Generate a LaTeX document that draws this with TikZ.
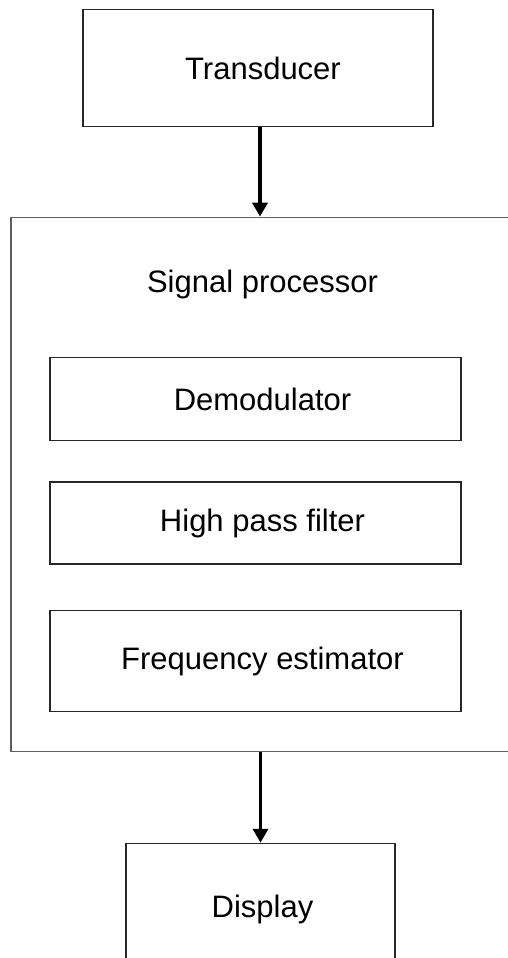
\documentclass[tikz,border=0pt]{standalone}
\usepackage{fontspec}
\setmainfont{Liberation Sans}
\usepackage{tikz}
\usetikzlibrary{arrows.meta, positioning, calc}
\definecolor{outerline}{RGB}{95,95,95}
\definecolor{innerline}{RGB}{40,40,40}

\tikzset{
  blockbox/.style={draw=innerline, line width=0.75pt, rectangle, inner sep=0pt,
    font=\fontsize{15.5}{18}\selectfont},
  stagebox/.style={blockbox, minimum width=205.5pt},
  flow/.style={-{Triangle[length=7pt, width=7.5pt]}, line width=1.75pt}
}

\begin{document}
\begin{tikzpicture}[x=0.5pt, y=-0.5pt]
  \clip (0,0) rectangle (508,958);
  % outer signal processor block
  \node[blockbox, draw=outerline, line width=0.9pt, minimum width=252pt, minimum height=267pt] (sigproc) at (263,484.5) {};
  \node[font=\fontsize{15.5}{18}\selectfont] (sptitle) at (262.5,284) {Signal processor};
  % top and bottom blocks
  \node[blockbox, minimum width=175pt, minimum height=58.5pt] (trans) at (258,68) {\hspace{5pt}Transducer};
  \node[blockbox, minimum width=134.5pt, minimum height=65.5pt] (disp) at (260.5,909) {\hspace{2pt}Display};
  % stages inside the processor
  \node[stagebox, minimum height=41.5pt] (demod) at (255.5,399) {\hspace{7pt}Demodulator};
  \node[stagebox, minimum height=41pt] (hpf) at (255.5,523) {\hspace{7pt}High pass filter};
  \node[stagebox, minimum height=50.5pt] (freq) at (255.5,661) {\hspace{7pt}Frequency estimator};
  % connectors
  \draw[flow] ($(trans.south)+(2,0)$) -- ($(trans.south |- sigproc.north)+(2,0)$);
  \draw[flow] (sigproc.south -| disp.north) -- (disp.north);
\end{tikzpicture}
\end{document}
